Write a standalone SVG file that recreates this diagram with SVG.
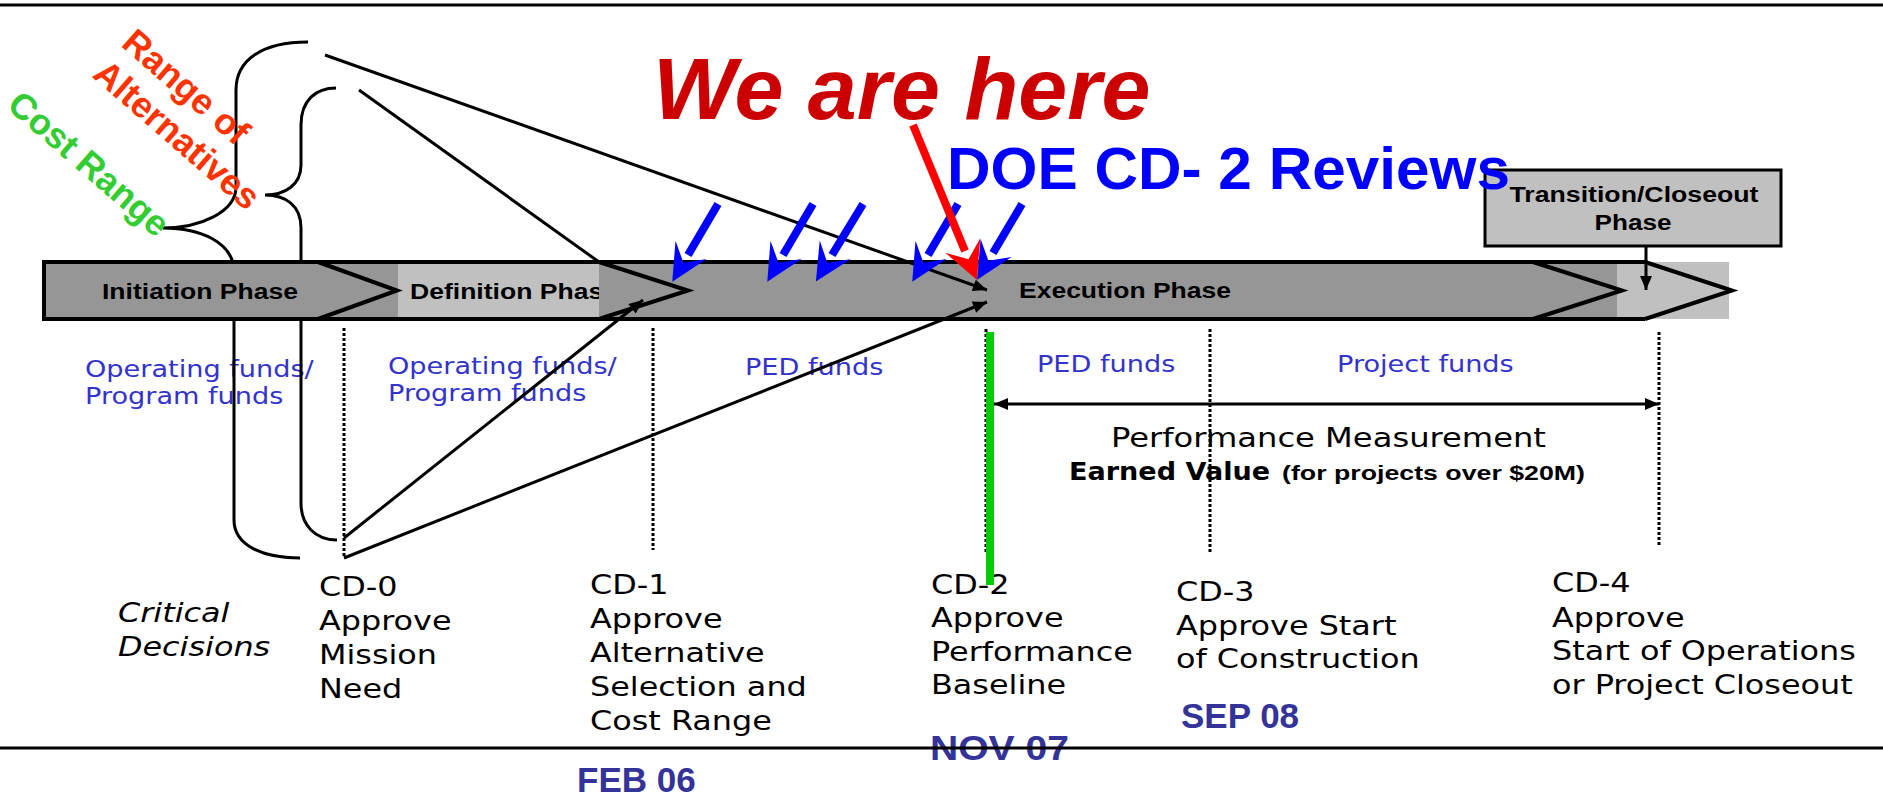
<svg xmlns="http://www.w3.org/2000/svg" width="1883" height="800" viewBox="0 0 1883 800">
<style>
.ar{font-family:"Liberation Sans",Arial,sans-serif;font-weight:bold}
.vd{font-family:"DejaVu Sans",Verdana,sans-serif}
.fund{font-family:"DejaVu Sans",Verdana,sans-serif;font-size:23px;fill:#3333cc}
.cd{font-family:"DejaVu Sans",Verdana,sans-serif;font-size:27px;fill:#000}
.date{font-family:"Liberation Sans",Arial,sans-serif;font-weight:bold;font-size:35px;fill:#333399}
.ln{stroke:#000;stroke-width:3;fill:none}
.dot{stroke:#000;stroke-width:3;stroke-dasharray:3,2;fill:none}
.edge{stroke:#000;stroke-width:4;fill:none;stroke-linejoin:miter}
.blue{stroke:#0000ff;stroke-width:8;fill:none}
</style>
<defs>
<marker id="ah" markerUnits="userSpaceOnUse" markerWidth="16" markerHeight="14" refX="14" refY="6" orient="auto-start-reverse" overflow="visible"><path d="M0,0 L14,6 L0,12 z" fill="#000"/></marker>
<marker id="stb" markerUnits="userSpaceOnUse" markerWidth="40" markerHeight="40" refX="0" refY="0" orient="auto" overflow="visible"><path d="M31,0 L-6,-18 L9,0 L-6,18 z" fill="#0000ff"/></marker>
<marker id="str" markerUnits="userSpaceOnUse" markerWidth="40" markerHeight="40" refX="0" refY="0" orient="auto" overflow="visible"><path d="M31,0 L-6,-19 L9,0 L-6,19 z" fill="#ff0000"/></marker>
</defs>

<!-- frame lines -->
<path class="ln" d="M0,5 L1883,5"/>

<!-- fund labels -->
<g id="funds">
<g transform="translate(85,0) scale(1.18,1)"><text class="fund" x="0" y="377">Operating funds/</text><text class="fund" x="0" y="404">Program funds</text></g>
<g transform="translate(388,0) scale(1.18,1)"><text class="fund" x="0" y="374">Operating funds/</text><text class="fund" x="0" y="401">Program funds</text></g>
<g transform="translate(745,0) scale(1.18,1)"><text class="fund" x="0" y="375">PED funds</text></g>
<g transform="translate(1037,0) scale(1.18,1)"><text class="fund" x="0" y="372">PED funds</text></g>
<g transform="translate(1337,0) scale(1.18,1)"><text class="fund" x="0" y="372">Project funds</text></g>
</g>

<!-- braces -->
<g id="braces">
<path class="ln" d="M308,42 C262,42 236,60 236,90 L236,187 C236,212 200,228 163,228 C200,228 234,242 234,272 L234,520 C234,545 262,558 300,558"/>
<path class="ln" d="M336,88 C316,88 301,100 301,125 L301,165 C301,185 285,195 265,195 C285,195 301,205 301,228 L301,503 C301,525 315,540 337,540"/>
</g>

<g id="range-labels" class="ar">
<text x="178" y="96" font-size="36" fill="#ff3300" text-anchor="middle" transform="rotate(41 178 96)">Range of</text>
<text x="169" y="144" font-size="36" fill="#ff3300" text-anchor="middle" transform="rotate(41 169 144)">Alternatives</text>
<text x="81" y="173" font-size="36" fill="#33cc33" text-anchor="middle" transform="rotate(41 81 173)">Cost Range</text>
</g>

<!-- phase bar -->
<g id="phase-bar">
<rect x="44" y="262" width="354" height="57" fill="#969696"/>
<rect x="398" y="262" width="201" height="57" fill="#c0c0c0"/>
<text class="ar" x="410" y="299" font-size="22" textLength="208" lengthAdjust="spacingAndGlyphs">Definition Phase</text>
<rect x="599" y="262" width="1018" height="57" fill="#969696"/>
<rect x="1617" y="262" width="112" height="57" fill="#c0c0c0"/>
<path class="edge" d="M44,262 L1645,262 M44,319 L1645,319 M44,260 L44,321"/>
<path class="edge" d="M318,262 L397,290.5 L318,319"/>
<path class="edge" d="M599,262 L688,290.5 L599,319"/>
<path class="edge" d="M1533,262 L1622,290.5 L1533,319"/>
<path class="edge" d="M1645,262 L1732,290.5 L1645,319"/>
<text class="ar" x="102" y="299" font-size="22" textLength="196" lengthAdjust="spacingAndGlyphs">Initiation Phase</text>
<text class="ar" x="1019" y="298" font-size="22" textLength="212" lengthAdjust="spacingAndGlyphs">Execution Phase</text>
</g>

<g id="transition-box">
<rect x="1485" y="170" width="296" height="76" fill="#c0c0c0" stroke="#000" stroke-width="3"/>
<text class="ar" x="1634" y="202" font-size="22" text-anchor="middle" textLength="249" lengthAdjust="spacingAndGlyphs">Transition/Closeout</text>
<text class="ar" x="1633" y="230" font-size="22" text-anchor="middle" textLength="77" lengthAdjust="spacingAndGlyphs">Phase</text>
</g>

<!-- performance measurement -->
<g id="performance">
<text class="vd" x="1111" y="447" font-size="26" textLength="435" lengthAdjust="spacingAndGlyphs">Performance Measurement</text>
<text class="vd" x="1069" y="480" font-size="25" font-weight="bold" textLength="201" lengthAdjust="spacingAndGlyphs">Earned Value</text>
<text class="ar" x="1282" y="480" font-size="21" textLength="303" lengthAdjust="spacingAndGlyphs">(for projects over $20M)</text>
</g>

<!-- critical decisions -->
<g id="cd-labels">
<g transform="translate(118,0) scale(1.18,1)"><text class="cd" x="0" y="622" font-style="italic">Critical</text><text class="cd" x="0" y="656" font-style="italic">Decisions</text></g>
<g id="cd0" transform="translate(319,0) scale(1.18,1)"><text class="cd" x="0" y="596">CD-0</text><text class="cd" x="0" y="630">Approve</text><text class="cd" x="0" y="664">Mission</text><text class="cd" x="0" y="698">Need</text></g>
<g id="cd1" transform="translate(590,0) scale(1.18,1)"><text class="cd" x="0" y="594">CD-1</text><text class="cd" x="0" y="628">Approve</text><text class="cd" x="0" y="662">Alternative</text><text class="cd" x="0" y="696">Selection and</text><text class="cd" x="0" y="730">Cost Range</text></g>
<g id="cd2" transform="translate(931,0) scale(1.18,1)"><text class="cd" x="0" y="594">CD-2</text><text class="cd" x="0" y="627">Approve</text><text class="cd" x="0" y="661">Performance</text><text class="cd" x="0" y="694">Baseline</text></g>
<g id="cd3" transform="translate(1176,0) scale(1.18,1)"><text class="cd" x="0" y="601">CD-3</text><text class="cd" x="0" y="635">Approve Start</text><text class="cd" x="0" y="668">of Construction</text></g>
<g id="cd4" transform="translate(1552,0) scale(1.18,1)"><text class="cd" x="0" y="592">CD-4</text><text class="cd" x="0" y="627">Approve</text><text class="cd" x="0" y="660">Start of Operations</text><text class="cd" x="0" y="694">or Project Closeout</text></g>
</g>

<g id="dates">
<text class="date" x="577" y="792">FEB 06</text>
<text class="date" x="930" y="760" textLength="139" lengthAdjust="spacingAndGlyphs">NOV 07</text>
<text class="date" x="1181" y="728">SEP 08</text>
</g>

<!-- connectors -->
<g id="connectors">
<path class="dot" d="M344,328 L344,558"/>
<path class="dot" d="M653,328 L653,550"/>
<path class="dot" d="M986,329 L986,553"/>
<path class="dot" d="M1210,329 L1210,553"/>
<path class="dot" d="M1659,332 L1659,547"/>
<path d="M990,332 L990,585" stroke="#00cc00" stroke-width="8"/>
<path class="ln" d="M325,55 L987,290" stroke-width="2.5" marker-end="url(#ah)"/>
<path class="ln" d="M359,90 L599,262" stroke-width="2.5"/>
<path class="ln" d="M344,538 L643,300" stroke-width="2.5" marker-end="url(#ah)"/>
<path class="ln" d="M344,558 L987,302" stroke-width="2.5" marker-end="url(#ah)"/>
<path class="ln" d="M1646,246 L1646,290" marker-end="url(#ah)"/>
<path class="ln" d="M994,404 L1659,404" marker-start="url(#ah)" marker-end="url(#ah)"/>
<path class="blue" d="M718,204 L688,255" marker-end="url(#stb)"/>
<path class="blue" d="M813,204 L783,255" marker-end="url(#stb)"/>
<path class="blue" d="M863,204 L832,255" marker-end="url(#stb)"/>
<path class="blue" d="M958,204 L928,255" marker-end="url(#stb)"/>
<path class="blue" d="M1022,204 L993,253" marker-end="url(#stb)"/>
<path d="M913,125 L965,251" stroke="#ff0000" stroke-width="8" fill="none" marker-end="url(#str)"/>
</g>

<g id="callouts">
<text class="ar" x="653" y="119" font-size="88" font-style="italic" fill="#cc0000">We are here</text>
<text class="ar" x="947" y="189" font-size="60" fill="#0000ff" textLength="563" lengthAdjust="spacingAndGlyphs">DOE CD- 2 Reviews</text>
</g>

<path class="ln" d="M0,748 L1883,748" stroke-width="4"/>
</svg>
